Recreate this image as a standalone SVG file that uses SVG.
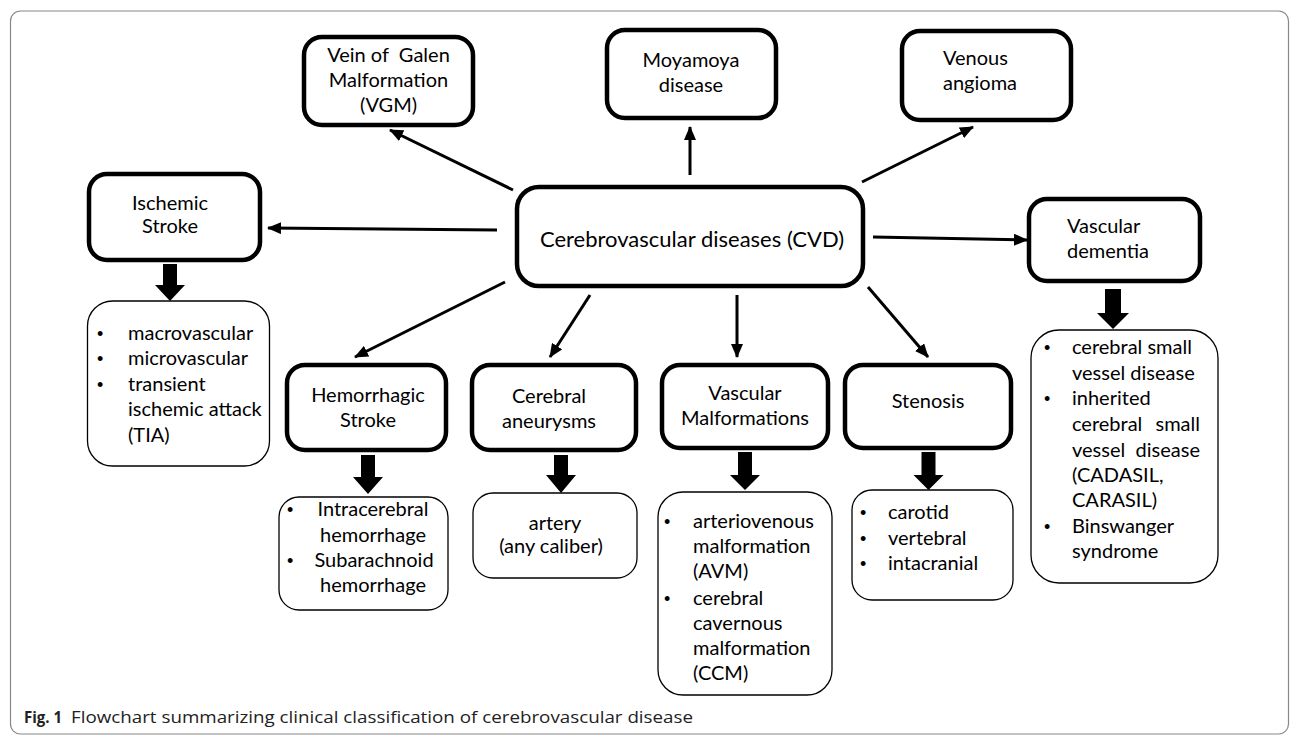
<svg xmlns="http://www.w3.org/2000/svg" width="1293" height="736" viewBox="0 0 1293 736">
<style>
.t{font-family:Lato,"Liberation Sans",sans-serif;font-size:20px;fill:#000}
.c{text-anchor:middle}
.big{font-size:22px}
.b{font-family:"Liberation Sans",sans-serif;font-size:18px;fill:#000}
.box{fill:#fff;stroke:#000;stroke-width:4.5}
.lst{fill:#fff;stroke:#000;stroke-width:1.3}
.ln{stroke:#000;stroke-width:3;fill:none}
.blk{fill:#000}
.cap{font-family:"Open Sans","Liberation Sans",sans-serif;font-size:16px;fill:#222}
</style>
<defs>
<marker id="ah" markerUnits="userSpaceOnUse" markerWidth="14" markerHeight="12" refX="13" refY="6" orient="auto">
<path d="M0,0 L14,6 L0,12 Z" fill="#000"/>
</marker>
</defs>
<rect x="10.5" y="11" width="1278" height="723" rx="10" fill="#fff" stroke="#888" stroke-width="1.2"/>

<g id="connectors">
<line class="ln" x1="513" y1="190" x2="390" y2="130" marker-end="url(#ah)"/>
<line class="ln" x1="690" y1="175" x2="690" y2="127" marker-end="url(#ah)"/>
<line class="ln" x1="862" y1="182" x2="973" y2="127" marker-end="url(#ah)"/>
<line class="ln" x1="497" y1="230" x2="268" y2="228" marker-end="url(#ah)"/>
<line class="ln" x1="873" y1="237" x2="1027" y2="240" marker-end="url(#ah)"/>
<line class="ln" x1="505" y1="282" x2="355" y2="357" marker-end="url(#ah)"/>
<line class="ln" x1="590" y1="295" x2="550" y2="357" marker-end="url(#ah)"/>
<line class="ln" x1="737" y1="295" x2="737" y2="357" marker-end="url(#ah)"/>
<line class="ln" x1="868" y1="287" x2="928" y2="357" marker-end="url(#ah)"/>
<polygon class="blk" points="163,264 177,264 177,285 185,285 170,301 155,285 163,285"/>
<polygon class="blk" points="361,455 375,455 375,477 383,477 368,494 353,477 361,477"/>
<polygon class="blk" points="554,455 568,455 568,475 576,475 561,493 546,475 554,475"/>
<polygon class="blk" points="738,452 752,452 752,475 760,475 745,490 730,475 738,475"/>
<polygon class="blk" points="921.5,452 935.5,452 935.5,475 943.5,475 928.5,490 913.5,475 921.5,475"/>
<polygon class="blk" points="1105,289 1121,289 1121,313 1129,313 1113,329 1097,313 1105,313"/>
</g>

<g id="cvd">
<rect class="box" x="517" y="187" width="346" height="99" rx="22"/>
<text class="t c big" x="692" y="247">Cerebrovascular diseases (CVD)</text>
</g>

<g id="vgm">
<rect class="box" x="304" y="37" width="169" height="88" rx="18"/>
<text class="t c" x="388.5" y="62" xml:space="preserve">Vein of  Galen</text>
<text class="t c" x="388.5" y="87">Malformation</text>
<text class="t c" x="388.5" y="112">(VGM)</text>
</g>

<g id="moyamoya">
<rect class="box" x="607" y="30" width="169" height="88" rx="18"/>
<text class="t c" x="691" y="67">Moyamoya</text>
<text class="t c" x="691" y="92">disease</text>
</g>

<g id="venous">
<rect class="box" x="902" y="31" width="169" height="89" rx="18"/>
<text class="t" x="943" y="65">Venous</text>
<text class="t" x="943" y="90">angioma</text>
</g>

<g id="ischemic">
<rect class="box" x="89" y="174" width="171" height="86" rx="18"/>
<text class="t c" x="170" y="210">Ischemic</text>
<text class="t c" x="170" y="233">Stroke</text>
</g>

<g id="ischemic-list">
<rect class="lst" x="87.5" y="301" width="182" height="165" rx="25"/>
<text class="b" x="97" y="340">•</text>
<text class="b" x="97" y="365">•</text>
<text class="b" x="97" y="391">•</text>
<text class="t" x="128" y="340">macrovascular</text>
<text class="t" x="128" y="365">microvascular</text>
<text class="t" x="128" y="391">transient</text>
<text class="t" x="128" y="416">ischemic attack</text>
<text class="t" x="128" y="442">(TIA)</text>
</g>

<g id="dementia">
<rect class="box" x="1029" y="199" width="171" height="82" rx="18"/>
<text class="t" x="1067" y="233">Vascular</text>
<text class="t" x="1067" y="258">dementia</text>
</g>

<g id="dementia-list">
<rect class="lst" x="1031" y="330" width="187" height="253" rx="28"/>
<text class="b" x="1044" y="354">•</text>
<text class="b" x="1044" y="405">•</text>
<text class="b" x="1044" y="533">•</text>
<text class="t" x="1072" y="354">cerebral small</text>
<text class="t" x="1072" y="380">vessel disease</text>
<text class="t" x="1072" y="405">inherited</text>
<text class="t" x="1072" y="431">cerebral</text>
<text class="t" x="1200" y="431" text-anchor="end">small</text>
<text class="t" x="1072" y="457">vessel</text>
<text class="t" x="1200" y="457" text-anchor="end">disease</text>
<text class="t" x="1072" y="482">(CADASIL,</text>
<text class="t" x="1072" y="507">CARASIL)</text>
<text class="t" x="1072" y="533">Binswanger</text>
<text class="t" x="1072" y="558">syndrome</text>
</g>

<g id="hemorrhagic">
<rect class="box" x="287" y="365" width="159" height="85" rx="18"/>
<text class="t c" x="368" y="402">Hemorrhagic</text>
<text class="t c" x="368" y="427">Stroke</text>
</g>

<g id="hemorrhagic-list">
<rect class="lst" x="279" y="497" width="169" height="113" rx="20"/>
<text class="b" x="287" y="516">•</text>
<text class="b" x="287" y="567">•</text>
<text class="t c" x="373" y="516">Intracerebral</text>
<text class="t c" x="373" y="542">hemorrhage</text>
<text class="t c" x="374" y="567">Subarachnoid</text>
<text class="t c" x="373" y="592">hemorrhage</text>
</g>

<g id="aneurysms">
<rect class="box" x="472" y="365" width="164" height="85" rx="18"/>
<text class="t c" x="549" y="403">Cerebral</text>
<text class="t c" x="549" y="428">aneurysms</text>
</g>

<g id="artery-list">
<rect class="lst" x="473" y="493" width="164" height="85" rx="20"/>
<text class="t c" x="555" y="530">artery</text>
<text class="t c" x="551" y="553">(any caliber)</text>
</g>

<g id="malformations">
<rect class="box" x="662" y="365" width="166" height="83" rx="18"/>
<text class="t c" x="745" y="400">Vascular</text>
<text class="t c" x="745" y="425">Malformations</text>
</g>

<g id="malformations-list">
<rect class="lst" x="658" y="492" width="174" height="203" rx="25"/>
<text class="b" x="664" y="528">•</text>
<text class="b" x="664" y="605">•</text>
<text class="t" x="693" y="528">arteriovenous</text>
<text class="t" x="693" y="553">malformation</text>
<text class="t" x="693" y="578">(AVM)</text>
<text class="t" x="693" y="605">cerebral</text>
<text class="t" x="693" y="630">cavernous</text>
<text class="t" x="693" y="655">malformation</text>
<text class="t" x="693" y="680">(CCM)</text>
</g>

<g id="stenosis">
<rect class="box" x="845" y="365" width="166" height="83" rx="18"/>
<text class="t c" x="928" y="408">Stenosis</text>
</g>

<g id="stenosis-list">
<rect class="lst" x="852" y="490" width="161" height="110" rx="20"/>
<text class="b" x="860" y="519">•</text>
<text class="b" x="860" y="545">•</text>
<text class="b" x="860" y="570">•</text>
<text class="t" x="888" y="519">carotid</text>
<text class="t" x="888" y="545">vertebral</text>
<text class="t" x="888" y="570">intacranial</text>
</g>

<g id="caption">
<text class="cap" x="24" y="723" font-weight="bold" textLength="38" lengthAdjust="spacingAndGlyphs">Fig. 1</text>
<text class="cap" x="71" y="723" textLength="622" lengthAdjust="spacingAndGlyphs">Flowchart summarizing clinical classification of cerebrovascular disease</text>
</g>
</svg>
